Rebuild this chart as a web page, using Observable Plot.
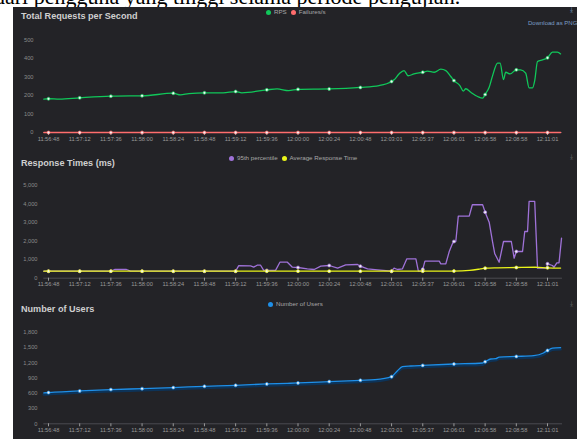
<!DOCTYPE html>
<html>
<head>
<meta charset="utf-8">
<script src="https://cdn.jsdelivr.net/npm/d3@7"></script>
<script src="https://cdn.jsdelivr.net/npm/@observablehq/plot@0.6"></script>
<style>
  html, body { margin:0; padding:0; }
  body { width:577px; height:439px; overflow:hidden; position:relative; background:#fff; font-family:'Liberation Sans', Arial, sans-serif; }
  #toptext { position:absolute; left:-6px; top:-14px; font-family:'Liberation Serif','Times New Roman',serif; font-size:22px; line-height:22px; color:#000; white-space:nowrap; }
  #panel { position:absolute; left:13px; top:7px; width:564px; height:432px; background:#232327; }
  .chart { position:absolute; left:13px; }
  .title { position:absolute; left:21px; color:#cfcfcf; font-weight:bold; font-size:9.1px; line-height:10px; white-space:nowrap; }
  .legend { position:absolute; color:#a8a8a8; font-size:6.2px; line-height:7px; white-space:nowrap; }
  .legend span.dot { display:inline-block; width:5px; height:5px; border-radius:50%; vertical-align:-0.5px; margin-right:3px; }
  .legend span.item { margin-right:4px; }
  .dl { position:absolute; color:#7d9fc6; font-size:7px; line-height:8px; white-space:nowrap; }
</style>
</head>
<body>
<div id="toptext">dari pengguna yang tinggi selama periode pengujian.</div>
<div id="panel"></div>
<div id="root"></div>
<script>
const xLabels = ["11:56:48","11:57:12","11:57:36","11:58:00","11:58:24","11:58:48","11:59:12","11:59:36","12:00:00","12:00:24","12:00:48","12:03:01","12:05:37","12:06:01","12:06:58","12:08:58","12:11:01"];

const rpsTicks = [0,100,200,300,400,500];
const respTicks = [0,1000,2000,3000,4000,5000];
const userTicks = [0,300,600,900,1200,1500,1800];

// [position along the label axis, value]
const rps = [[-0.15,180],[0,182],[0.35,180],[1,187],[2,196],[2.6,198],[3,198],[4,212],[4.23,203],[4.5,210],[5,214],[5.6,214],[6,221],[6.2,214],[7,230],[7.33,235],[7.7,226],[8,233],[9,235],[10,243],[10.6,253],[11,275],[11.08,284],[11.24,316],[11.4,334],[11.53,306],[11.72,316],[12,325],[12.15,331],[12.37,325],[12.58,342],[12.74,334],[12.9,302],[13,280],[13.19,253],[13.3,223],[13.38,236],[13.54,217],[13.76,194],[13.92,185],[14,205],[14.13,244],[14.24,307],[14.4,374],[14.48,374],[14.59,286],[14.66,325],[14.8,316],[15,338],[15.14,338],[15.3,320],[15.41,241],[15.52,241],[15.59,280],[15.68,383],[15.84,392],[16,403],[16.16,433],[16.32,433],[16.42,424]];

const failures = [[-0.15,0],[0,0],[1,0],[2,0],[3,0],[4,0],[5,0],[6,0],[7,0],[8,0],[9,0],[10,0],[11,0],[12,0],[13,0],[14,0],[15,0],[16,0],[16.42,0]];

const p95 = [[-0.15,380],[0,380],[1,380],[2,380],[2.12,470],[2.5,470],[2.63,380],[3,380],[4,380],[5,380],[6,380],[6.1,680],[6.48,660],[6.58,600],[6.69,700],[6.8,700],[6.9,420],[7,420],[7.28,420],[7.42,863],[7.66,863],[7.82,594],[8,577],[8.3,506],[8.52,470],[8.73,648],[9,685],[9.27,540],[9.53,723],[9.91,740],[10,648],[10.23,506],[10.55,452],[11,378],[11.08,540],[11.19,470],[11.35,506],[11.49,1047],[11.78,1047],[11.86,378],[11.99,378],[12,480],[12.07,918],[12.53,918],[12.58,777],[12.74,777],[12.85,1441],[12.95,1856],[13,1980],[13.06,1980],[13.14,3346],[13.49,3346],[13.59,3961],[13.92,3961],[14,3562],[14.13,3022],[14.24,1943],[14.31,1317],[14.45,863],[14.59,1980],[14.84,1980],[14.93,1080],[15,1441],[15.2,1441],[15.27,2520],[15.36,2520],[15.41,4140],[15.59,4140],[15.68,540],[15.98,540],[16,777],[16.16,685],[16.21,594],[16.3,831],[16.37,831],[16.45,2159]];

const avgResp = [[-0.15,378],[0,380],[1,378],[2,380],[3,378],[4,378],[5,380],[6,378],[7,378],[8,380],[9,378],[10,378],[11,378],[12,380],[13,385],[13.5,420],[13.85,500],[14,540],[14.4,560],[15,577],[15.6,591],[16,561],[16.42,545]];

const users = [[-0.15,607],[0,613],[1,646],[2,672],[3,691],[4,711],[5,737],[6,756],[7,783],[7.66,795],[8,803],[9,829],[10,855],[10.47,868],[11,927],[11.19,1044],[11.35,1122],[11.62,1136],[12,1148],[13,1175],[13.92,1195],[14,1220],[14.18,1273],[14.34,1279],[14.45,1312],[15,1324],[15.56,1338],[15.87,1391],[16,1442],[16.16,1489],[16.42,1495]];

const C = {rps:"#10c85a", fail:"#ff6d6d", p95:"#9f72d8", avg:"#eaf51a", users:"#1e8fe8"};

const atLabel = d => Number.isInteger(d[0]);

function seriesMarks(data, color, curve, extra = []) {
  return [
    ...extra,
    Plot.line(data, {x: d => d[0], y: d => d[1], stroke: color, strokeWidth: 1.3, curve}),
    Plot.dot(data.filter(atLabel), {x: d => d[0], y: d => d[1], r: 1.5, fill: "#f4f4f4", stroke: color, strokeWidth: 0.7})
  ];
}

function chart({top, height, yDomain, yRange, yTicks, marginLeft, marks}) {
  const svg = Plot.plot({
    width: 564, height,
    marginLeft, marginRight: 0, marginTop: 0, marginBottom: height - yRange[0],
    style: {background: "transparent", color: "#8e8e8e", fontFamily: "'Liberation Sans', Arial, sans-serif", fontSize: "5.7px", overflow: "visible"},
    x: {domain: [0, 16], range: [35, 534]},
    y: {domain: yDomain, range: yRange},
    marks: [
      Plot.axisY({ticks: yTicks, tickSize: 0, tickPadding: 2, tickFormat: d3.format(","), label: null, anchor: "left", color: "#8a8a8a"}),
      Plot.ruleY([0], {x1: -0.15, x2: 16.48, stroke: "#55555c", strokeWidth: 0.8}),
      Plot.axisX({ticks: d3.range(xLabels.length), tickFormat: i => xLabels[i], tickSize: 3, tickPadding: 1, label: null, color: "#9a9a9a"}),
      ...marks
    ]
  });
  const wrap = document.createElement("div");
  wrap.className = "chart";
  wrap.style.top = top + "px";
  wrap.appendChild(svg);
  document.getElementById("root").appendChild(wrap);
}

function addHTML(html) {
  const d = document.createElement("div");
  d.innerHTML = html;
  while (d.firstChild) document.body.appendChild(d.firstChild);
}

chart({
  top: 24, height: 122, yDomain: [0, 500], yRange: [108, 15.3], yTicks: rpsTicks, marginLeft: 22,
  marks: [
    ...seriesMarks(rps, C.rps, "monotone-x"),
    ...seriesMarks(failures, C.fail, "linear")
  ]
});

chart({
  top: 168, height: 122, yDomain: [0, 5000], yRange: [109.7, 17], yTicks: respTicks, marginLeft: 26,
  marks: [
    ...seriesMarks(p95, C.p95, "linear"),
    ...seriesMarks(avgResp, C.avg, "monotone-x")
  ]
});

chart({
  top: 312, height: 127, yDomain: [0, 1800], yRange: [111.3, 19.7], yTicks: userTicks, marginLeft: 26,
  marks: [
    ...seriesMarks(users, C.users, "monotone-x", [
      Plot.line(users, {x: d => d[0], y: d => d[1], stroke: "#0d3358", strokeWidth: 2.6, dy: 1.6, curve: "monotone-x"})
    ])
  ]
});

addHTML(`
<div class="title" style="top:11px">Total Requests per Second</div>
<div class="title" style="top:158px">Response Times (ms)</div>
<div class="title" style="top:304px">Number of Users</div>
<div class="legend" style="left:266px;top:8px"><span class="item"><span class="dot" style="background:${C.rps}"></span>RPS</span><span class="item"><span class="dot" style="background:${C.fail}"></span>Failures/s</span></div>
<div class="legend" style="left:229px;top:154px"><span class="item"><span class="dot" style="background:${C.p95}"></span>95th percentile</span><span class="item"><span class="dot" style="background:${C.avg}"></span>Average Response Time</span></div>
<div class="legend" style="left:268px;top:300px"><span class="item"><span class="dot" style="background:${C.users}"></span>Number of Users</span></div>
<div class="dl" style="left:570px;top:6px;font-family:'DejaVu Sans'">⤓</div>
<div class="dl" style="left:528px;top:19px;font-size:6px">Download as PNG</div>
<div class="dl" style="left:570px;top:153px;color:#6b6b70;font-family:'DejaVu Sans'">⤓</div>
<div class="dl" style="left:570px;top:300px;color:#6b6b70;font-family:'DejaVu Sans'">⤓</div>
`);
</script>
</body>
</html>
